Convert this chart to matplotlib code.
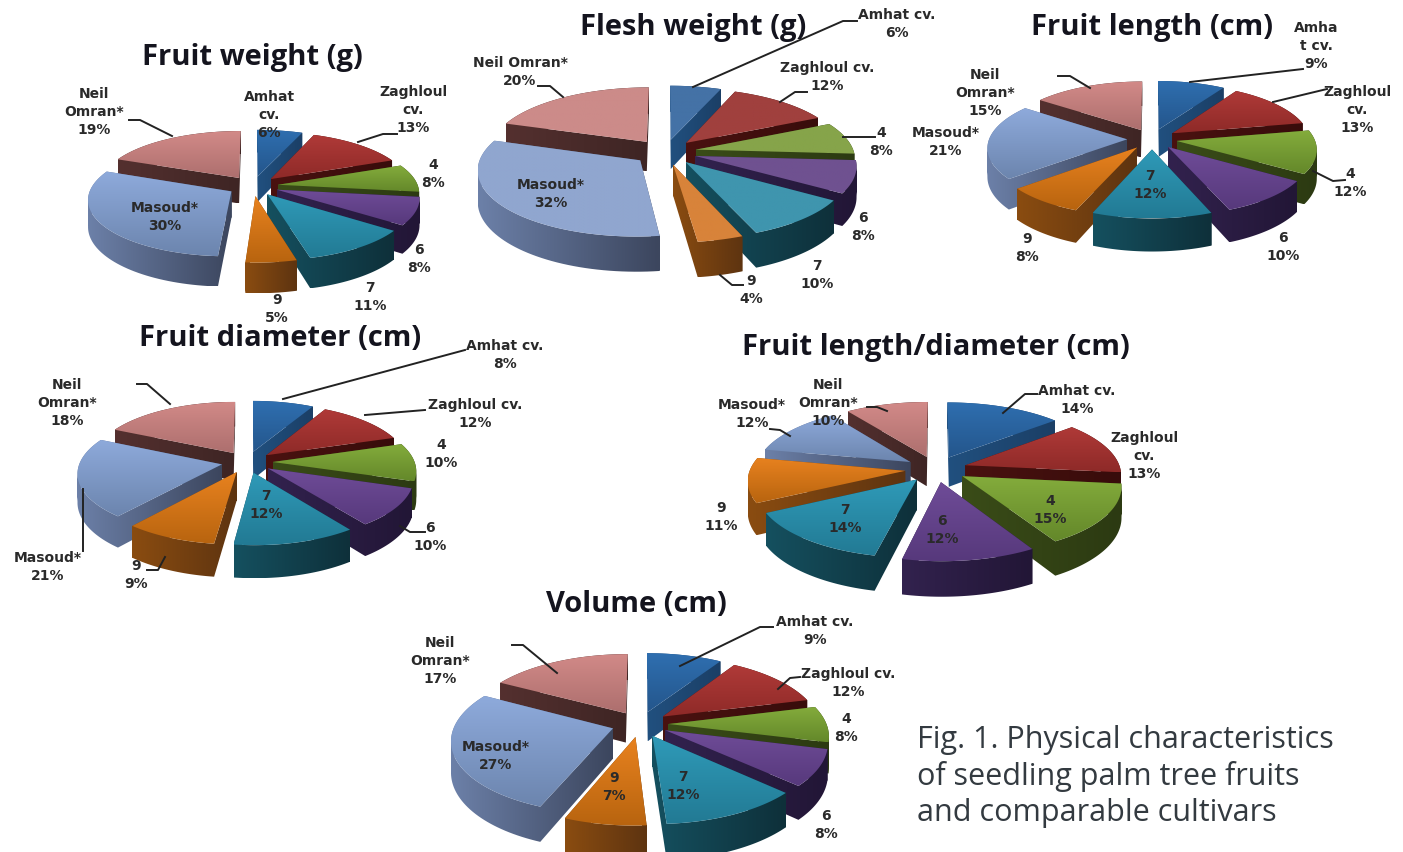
import numpy as np
from matplotlib import pyplot as plt
from matplotlib.colors import to_rgb
from matplotlib.path import Path
from matplotlib.patches import PathPatch

# percentages per sample, same order everywhere
fruit_weight = [6, 13, 8, 8, 11, 5, 30, 19]
flesh_weight = [6, 12, 8, 8, 10, 4, 32, 20]
fruit_length = [9, 13, 12, 10, 12, 8, 21, 15]
fruit_diameter = [8, 12, 10, 10, 12, 9, 21, 18]
length_diameter = [14, 13, 15, 12, 14, 11, 12, 10]
volume = [9, 12, 8, 8, 12, 7, 27, 17]

names_a = ['Amhat\ncv.', 'Zaghloul\ncv.', '4', '6', '7', '9', 'Masoud*', 'Neil\nOmran*']
names_b = ['Amhat cv.', 'Zaghloul cv.', '4', '6', '7', '9', 'Masoud*', 'Neil Omran*']
names_c = ['Amha\nt cv.', 'Zaghloul\ncv.', '4', '6', '7', '9', 'Masoud*', 'Neil\nOmran*']
names_d = ['Amhat cv.', 'Zaghloul cv.', '4', '6', '7', '9', 'Masoud*', 'Neil\nOmran*']
names_e = ['Amhat cv.', 'Zaghloul\ncv.', '4', '6', '7', '9', 'Masoud*', 'Neil\nOmran*']

# slice colours: top surface light/dark, wall light/dark
top_hi = ['#2f6fb0', '#b03a38', '#84ac3c', '#6f4c98', '#2f9ab8', '#e8821f', '#8eaadb', '#d28a88']
top_lo = ['#24568c', '#8e2a28', '#64882a', '#57397c', '#227a94', '#b8640f', '#6c85ae', '#ad6f6e']
wall_hi = ['#21507f', '#4a1210', '#3a4c18', '#32224e', '#15505f', '#8a4c10', '#6c80a8', '#54302f']
wall_lo = ['#1b3f66', '#380c0b', '#2c3a12', '#221636', '#0e303a', '#5e3410', '#3c465e', '#3e2524']
flat_top = ['#4472a6', '#a0403e', '#86a44a', '#6f5190', '#3f95ae', '#d8833a', '#90a6cf', '#cc8b89']

# title, centre of title, values, names, pie centre, rx, ry, depth, perspective, explode
charts = [
    dict(title='Fruit weight (g)', tpos=(252, 57), vals=fruit_weight, names=names_a,
         c=(253, 187), rx=140, ry=55, depth=26, p=0.13, ex=0.18, flat=False,
         lab=[(269, 115), (413, 110), (433, 174), (419, 259), (370, 297), (277, 309), (165, 217), (94, 112)],
         lead=[[(397, 135), (383, 135), (358, 143)], [(129, 121), (140, 121), (172, 137)]]),
    dict(title='Flesh weight (g)', tpos=(693, 27), vals=flesh_weight, names=names_b,
         c=(665, 153), rx=158, ry=64, depth=30, p=0.13, ex=0.2, flat=True,
         lab=[(897, 24), (827, 77), (881, 142), (863, 227), (817, 275), (751, 290), (551, 194), (520, 72)],
         lead=[[(857, 22), (843, 22), (693, 88)], [(807, 93), (795, 93), (780, 103)],
               [(875, 138), (843, 138)], [(743, 286), (732, 286), (720, 276)],
               [(538, 87), (550, 87), (563, 98)]]),
    dict(title='Fruit length (cm)', tpos=(1152, 27), vals=fruit_length, names=names_c,
         c=(1152, 140), rx=138, ry=57, depth=28, p=0.13, ex=0.18, flat=False,
         lab=[(1316, 46), (1357, 110), (1350, 183), (1283, 247), (1150, 185), (1027, 248), (946, 142), (985, 93)],
         lead=[[(1303, 70), (1190, 83)], [(1327, 90), (1273, 103)],
               [(1345, 181), (1333, 182), (1313, 172)], [(1058, 77), (1070, 77), (1090, 89)]]),
    dict(title='Fruit diameter (cm)', tpos=(280, 338), vals=fruit_diameter, names=names_d,
         c=(247, 463), rx=142, ry=60, depth=28, p=0.13, ex=0.18, flat=False,
         lab=[(505, 355), (475, 414), (441, 454), (430, 537), (266, 505), (136, 575), (48, 567), (67, 403)],
         lead=[[(465, 351), (283, 400)], [(425, 411), (365, 416)], [(425, 533), (410, 533), (400, 527)],
               [(147, 571), (158, 571), (165, 558)], [(83, 552), (83, 490)],
               [(137, 385), (147, 385), (170, 405)]]),
    dict(title='Fruit length/diameter (cm)', tpos=(936, 347), vals=length_diameter, names=names_e,
         c=(936, 470), rx=155, ry=65, depth=30, p=0.13, ex=0.2, flat=False,
         lab=[(1077, 400), (1144, 456), (1050, 510), (942, 530), (845, 519), (721, 517), (752, 414), (828, 403)],
         lead=[[(1037, 395), (1025, 395), (1003, 414)], [(770, 430), (780, 431), (790, 437)],
               [(867, 408), (877, 408), (887, 412)]]),
    dict(title='Volume (cm)', tpos=(636, 605), vals=volume, names=names_d,
         c=(640, 725), rx=158, ry=71, depth=30, p=0.15, ex=0.18, flat=False,
         lab=[(815, 631), (848, 683), (846, 728), (826, 825), (683, 786), (614, 787), (496, 756), (440, 661)],
         lead=[[(773, 628), (760, 628), (680, 667)], [(800, 678), (790, 679), (778, 690)],
               [(512, 646), (523, 646), (557, 674)]]),
]


def gradient(c1, c2, vertical):
    t = np.linspace(0, 1, 64)[:, None]
    g = (1 - t) * np.array(to_rgb(c1)) + t * np.array(to_rgb(c2))
    return g[:, None, :] if vertical else g[None, :, :]


def shaded(ax, path, img, z):
    # gradient image cut out by a path
    xy = path.vertices
    extent = (xy[:, 0].min(), xy[:, 0].max(), xy[:, 1].max(), xy[:, 1].min())
    im = ax.imshow(img, extent=extent, aspect='auto', interpolation='bilinear', zorder=z)
    im.set_clip_path(PathPatch(path, transform=ax.transData))


def wall_path(top, bot):
    # sweep of the slice outline between top and bottom, quads wound the same way
    verts, codes = [], []
    for i in range(len(top) - 1):
        q = np.array([top[i], top[i + 1], bot[i + 1], bot[i]])
        area = np.sum(q[:, 0] * np.roll(q[:, 1], -1) - np.roll(q[:, 0], -1) * q[:, 1])
        if area < 0:
            q = q[::-1]
        verts += list(q) + [q[0]]
        codes += [Path.MOVETO, Path.LINETO, Path.LINETO, Path.LINETO, Path.CLOSEPOLY]
    return Path(np.array(verts), codes)


def draw_pie(ax, ch):
    wedges, _ = ax.pie(ch['vals'], explode=[ch['ex']] * 8, startangle=90, counterclock=False)
    cx, cy = ch['c']
    slices = []
    for i, w in enumerate(wedges):
        t = np.radians(np.linspace(w.theta1, w.theta2, 60))
        x = np.r_[w.center[0], w.center[0] + w.r * np.cos(t), w.center[0]]
        y = np.r_[w.center[1], w.center[1] + w.r * np.sin(t), w.center[1]]
        mid = np.radians((w.theta1 + w.theta2) / 2)
        slices.append((np.sin(mid), i, x, y))
        w.remove()
    # far slices first
    slices.sort(key=lambda s: -s[0])
    for n, (_, i, x, y) in enumerate(slices):
        s = 1 / (1 + ch['p'] * y)
        top = np.c_[cx + ch['rx'] * x * s, cy - ch['ry'] * y * s]
        bot = top + np.c_[0 * s, ch['depth'] * s]
        z = 2 + n * 0.01
        shaded(ax, wall_path(top, bot), gradient(wall_hi[i], wall_lo[i], False), z)
        if ch['flat']:
            img = gradient(flat_top[i], flat_top[i], True)
        else:
            img = gradient(top_hi[i], top_lo[i], True)
        shaded(ax, Path(top, closed=True), img, z + 0.001)


fig = plt.figure(figsize=(14.03, 8.53), dpi=100)
ax = fig.add_axes([0, 0, 1, 1])

for ch in charts:
    draw_pie(ax, ch)
    ax.text(ch['tpos'][0], ch['tpos'][1], ch['title'], ha='center', va='center',
            fontsize=21, fontweight='bold', family='Open Sans', color='#14141e', zorder=5)
    for name, val, xy in zip(ch['names'], ch['vals'], ch['lab']):
        ax.text(xy[0], xy[1], name + '\n' + str(val) + '%', ha='center', va='center',
                fontsize=10, fontweight='bold', color='#2a2a2a', linespacing=1.32, zorder=5)
    for line in ch['lead']:
        ax.plot([p[0] for p in line], [p[1] for p in line], color='#222222', lw=1.4, zorder=4)

caption = ['Fig. 1. Physical characteristics', 'of seedling palm tree fruits', 'and comparable cultivars']
for txt, y in zip(caption, [740, 777, 813]):
    ax.text(917, y, txt, ha='left', va='center', fontsize=22, family='Open Sans', color='#333a40')

ax.set_aspect('auto')
ax.set_xlim(0, 1403)
ax.set_ylim(853, 0)
ax.axis('off')
fig.savefig('out.png', dpi=100)
